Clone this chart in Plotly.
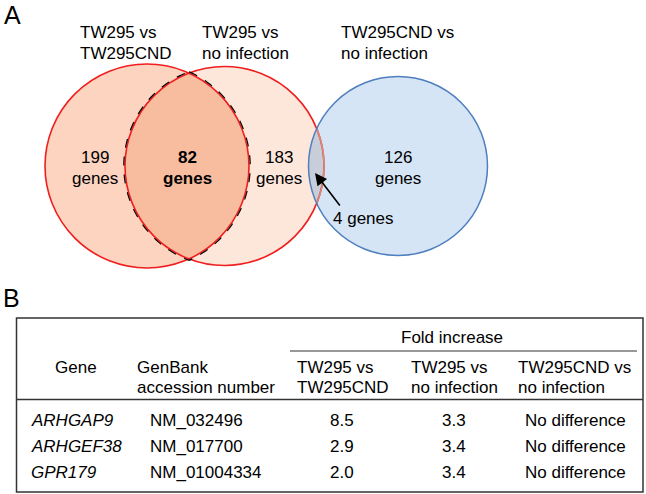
import numpy as np
import plotly.graph_objects as go

# ---------------- data ----------------
set_labels = [["TW295 vs", "TW295CND"], ["TW295 vs", "no infection"], ["TW295CND vs", "no infection"]]
region_counts = [199, 82, 183, 4, 126]   # A-only, A∩B, B-only, B∩C, C-only

col_group = "Fold increase"
col_headers = [["Gene"], ["GenBank", "accession number"], ["TW295 vs", "TW295CND"],
               ["TW295 vs", "no infection"], ["TW295CND vs", "no infection"]]
genes = ["ARHGAP9", "ARHGEF38", "GPR179"]
accessions = ["NM_032496", "NM_017700", "NM_01004334"]
fold_tw295_vs_cnd = [8.5, 2.9, 2.0]
fold_tw295_vs_none = [3.3, 3.4, 3.4]
fold_cnd_vs_none = ["No difference", "No difference", "No difference"]

# ---------------- layout geometry ----------------
W, H = 646, 494
FONT = "Liberation Sans, Arial, sans-serif"
FS = 17
circles = [(147, 166, 102), (224.5, 166, 99.5), (398, 166, 89.5)]

def arc_pts(cx, cy, r, a0, a1, n=90):
    t = np.linspace(a0, a1, n)
    return cx + r * np.cos(t), cy + r * np.sin(t)

def to_path(xs, ys, close=True):
    p = "M %.2f %.2f " % (xs[0], ys[0]) + " ".join("L %.2f %.2f" % (a, b) for a, b in zip(xs[1:], ys[1:]))
    return p + (" Z" if close else "")

def lens(c1, c2, grow=0.0):
    (x1, y1, r1), (x2, y2, r2) = c1, c2
    r1 += grow; r2 += grow
    d = x2 - x1
    xi = (d * d + r1 * r1 - r2 * r2) / (2 * d)
    h = np.sqrt(r1 * r1 - xi * xi)
    a1 = np.arctan2(h, xi)
    a2 = np.arctan2(h, xi - d)
    xa, ya = arc_pts(x1, y1, r1, -a1, a1)
    xb, yb = arc_pts(x2, y2, r2, a2, 2 * np.pi - a2)
    return np.concatenate([xa, xb]), np.concatenate([ya, yb]), h

shapes = []
def circ(c, fill=None, line=None, lw=1.6, dash=None):
    cx, cy, r = c
    shapes.append(dict(type="circle", xref="x", yref="y", x0=cx - r, x1=cx + r, y0=cy - r, y1=cy + r,
                       fillcolor=fill or "rgba(0,0,0,0)",
                       line=dict(color=line or "rgba(0,0,0,0)", width=lw if line else 0, dash=dash)))

RED = "#F01E1E"
BLUE = "#4F7FBF"
circ(circles[1], fill="#FDE6DA")
circ(circles[0], fill="#FCD4C0")
xs, ys, _ = lens(circles[0], circles[1])
shapes.append(dict(type="path", path=to_path(xs, ys), fillcolor="#F8BC9E", line=dict(width=0)))
circ(circles[2], fill="#D5E5F5")
xs, ys, h = lens(circles[1], circles[2])
shapes.append(dict(type="path", path=to_path(xs, ys), fillcolor="#C8CDDA", line=dict(width=0)))
circ(circles[0], line=RED)
circ(circles[1], line=RED)
cx, cy, r = circles[1]
hb = np.arcsin(h / r)
ax_, ay_ = arc_pts(cx, cy, r, -hb, hb)
shapes.append(dict(type="path", path=to_path(ax_, ay_, close=False), line=dict(color="#D88A78", width=1.6)))
circ(circles[2], line=BLUE, lw=1.5)
# dashed outline around the shared region
xs, ys, _ = lens(circles[0], circles[1], grow=1.2)
shapes.append(dict(type="path", path=to_path(xs, ys), line=dict(color="black", width=1.2, dash="dash")))

# table lines
TL, TR, TT, TB = 16.5, 643, 318, 492
shapes.append(dict(type="rect", x0=TL, x1=TR, y0=TT, y1=TB, line=dict(color="#333333", width=1.5)))
shapes.append(dict(type="line", x0=TL, x1=TR, y0=399.5, y1=399.5, line=dict(color="#333333", width=1.5)))
shapes.append(dict(type="line", x0=290, x1=637, y0=351, y1=351, line=dict(color="#333333", width=1.2)))

ann = []
def txt(x, y, s, xa="left", size=FS, color="black"):
    ann.append(dict(x=x, y=y, text=s, showarrow=False, xanchor=xa, yanchor="middle",
                    font=dict(family=FONT, size=size, color=color), xref="x", yref="y"))

txt(2, 15, "A", size=25)
txt(1, 298, "B", size=25)

label_x = [78, 200, 339]
for lx, lines in zip(label_x, set_labels):
    txt(lx, 32, lines[0]); txt(lx, 53, lines[1])

reg_x = [95, 187, 279, None, 398]
for i, (rx, n) in enumerate(zip(reg_x, region_counts)):
    if rx is None:
        continue
    if i == 1:
        txt(rx, 157, "<b>%d</b>" % n, xa="center"); txt(rx, 178, "<b>genes</b>", xa="center")
    else:
        txt(rx, 157, "%d" % n, xa="center"); txt(rx, 178, "genes", xa="center")
txt(331, 218, "%d genes" % region_counts[3])
ann.append(dict(x=315, y=173, ax=341, ay=207, axref="x", ayref="y", xref="x", yref="y", text="",
                showarrow=True, arrowhead=2, arrowsize=1.5, arrowwidth=1.6, arrowcolor="black", standoff=0))

txt(452, 337, col_group, xa="center")
txt(76, 367, col_headers[0][0], xa="center")
head_x = [None, 135, 295, 409, 516]
for hx, lines in zip(head_x, col_headers):
    if hx is None:
        continue
    txt(hx, 367, lines[0]); txt(hx, 387, lines[1])

row_y = [420, 446, 472]
for y, g, acc, f1, f2, f3 in zip(row_y, genes, accessions, fold_tw295_vs_cnd, fold_tw295_vs_none, fold_cnd_vs_none):
    txt(29, y, "<i>%s</i>" % g)
    txt(148, y, acc)
    txt(342, y, "%.1f" % f1, xa="center")
    txt(454, y, "%.1f" % f2, xa="center")
    txt(628, y, f3, xa="right")

fig = go.Figure(go.Scatter(x=[0], y=[0], mode="markers", marker=dict(opacity=0), hoverinfo="skip", showlegend=False))
fig.update_layout(width=W, height=H, margin=dict(l=0, r=0, t=0, b=0), autosize=False,
                  paper_bgcolor="white", plot_bgcolor="white", showlegend=False,
                  xaxis=dict(range=[0, W], visible=False, fixedrange=True),
                  yaxis=dict(range=[H, 0], visible=False, fixedrange=True),
                  shapes=shapes, annotations=ann)
fig.write_html("out.html", config={"displayModeBar": False},
               post_script="document.body.style.margin='0';document.body.style.overflow='hidden';")
